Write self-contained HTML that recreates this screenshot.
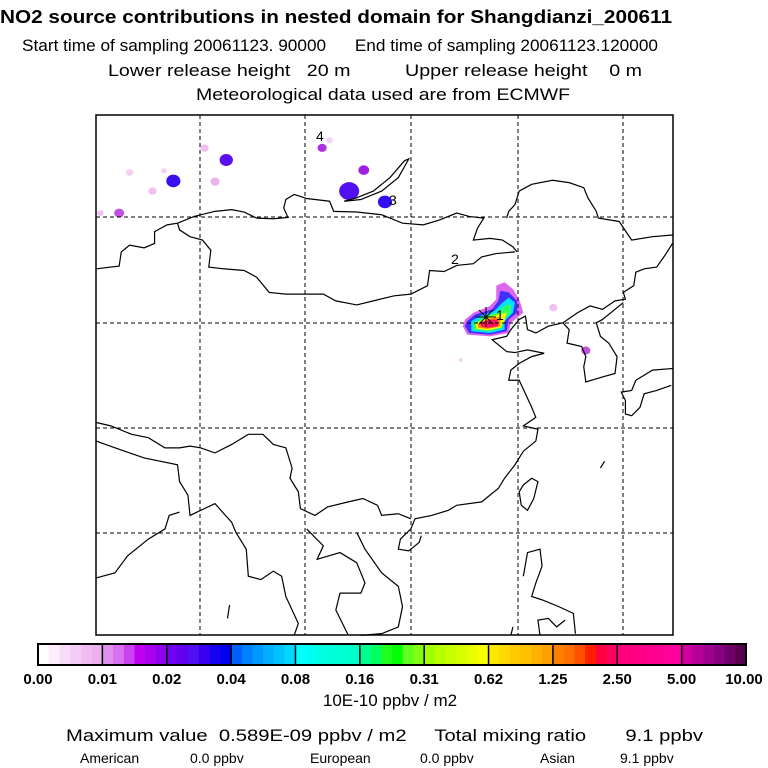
<!DOCTYPE html>
<html><head><meta charset="utf-8"><style>
html,body{margin:0;padding:0;background:#fff;width:768px;height:768px;overflow:hidden}
svg{display:block;font-family:"Liberation Sans",sans-serif}
</style></head><body>
<svg id="chart" width="768" height="768" viewBox="0 0 768 768">
<g fill="#000">
<text x="0" y="23" font-size="18" font-weight="bold" textLength="672" lengthAdjust="spacingAndGlyphs">NO2 source contributions in nested domain for Shangdianzi_200611</text>
<text x="22" y="51" font-size="17" xml:space="preserve" textLength="636" lengthAdjust="spacingAndGlyphs">Start time of sampling 20061123. 90000      End time of sampling 20061123.120000</text>
<text x="108" y="76" font-size="17" xml:space="preserve" textLength="534" lengthAdjust="spacingAndGlyphs">Lower release height   20 m          Upper release height    0 m</text>
<text x="196" y="100" font-size="17" textLength="374" lengthAdjust="spacingAndGlyphs">Meteorological data used are from ECMWF</text>
</g>
<g>
<rect x="96" y="115" width="577" height="520" fill="#fff"/>
<g id="plume" transform="translate(90,110) scale(0.41667,0.33784)"></g>
<g transform="translate(90,110) scale(0.41667,0.33784)" fill="none" stroke="#000" stroke-width="1.2">
<path vector-effect="non-scaling-stroke" d="M15,470 L70,462 75,420 95,400 130,408 155,395 155,360 185,340 210,335 250,315 300,300 340,295 370,302 400,320 440,322 475,318 465,290 470,265 490,250 520,262 575,270 585,300 640,302 700,310 750,335 800,340 840,325 880,305 910,315 945,320 930,350 920,385 960,380 990,385 1015,405 1025,420"/>
<path vector-effect="non-scaling-stroke" d="M1000,320 L1005,300 1020,280 1030,240 1060,220 1110,208 1150,215 1185,230 1195,260 1215,300 1220,320 1270,330 1300,385 1350,375 1398,370"/>
<path vector-effect="non-scaling-stroke" d="M210,335 L215,355 240,375 270,385 290,415 285,465 320,470 370,475 400,495 430,540 470,545 560,545 590,565 640,577 680,565 730,550 770,545 810,520 815,475 850,478 880,460 920,455 940,435 975,425 1020,420"/>
<path vector-effect="non-scaling-stroke" d="M1398,395 L1380,430 1360,465 1330,470 1310,480 1305,520 1280,540 1285,560 1260,565 1230,590 1200,580 1170,600 1135,630 1100,640 1070,660 1050,650 1045,610 1030,620 1010,650 1000,670 965,680 1000,715 1020,718 1050,710 1090,720 1060,730 1030,750 1010,770 1005,800 1030,800 1045,840 1060,880 1070,910 1040,935 1075,945 1070,980 1040,1010 1020,1050 995,1090 980,1120 940,1160 880,1170 860,1185 820,1200 780,1210 770,1240 745,1270 740,1300 765,1305 790,1280 795,1260"/>
<path vector-effect="non-scaling-stroke" d="M1135,630 L1150,650 1145,690 1180,700 1190,730 1185,760 1190,805 1230,790 1260,780 1265,730 1245,690 1225,670 1215,630 1230,620 1280,570"/>
<path vector-effect="non-scaling-stroke" d="M1400,765 L1350,770 1310,800 1300,830 1275,835 1285,860 1285,900 1300,905 1320,880 1330,840 1360,830 1395,815"/>
<path vector-effect="non-scaling-stroke" d="M15,925 L50,935 100,960 140,970 180,1000 215,1000 240,995 265,1000 300,1015 340,990 380,960 415,960 440,990 470,1000 485,1060 480,1090 500,1130 505,1180 540,1200 570,1175 620,1160 655,1150 690,1170 700,1200 740,1195 770,1210"/>
<path vector-effect="non-scaling-stroke" d="M15,980 L60,1000 130,1030 210,1050 215,1100 235,1140 240,1200 300,1165 325,1200 340,1220 350,1250 375,1300 380,1380 410,1390 440,1365 460,1380 470,1440 500,1520 490,1555"/>
<path vector-effect="non-scaling-stroke" d="M15,1385 L60,1370 90,1320 140,1270 180,1240 190,1200 215,1190"/>
<path vector-effect="non-scaling-stroke" d="M520,1240 L560,1290 545,1330 600,1310 640,1340 660,1400 650,1430 600,1430 590,1480 620,1555 M640,1250 L660,1300 700,1370 740,1410 750,1470 740,1530 700,1550 650,1555"/>
<path vector-effect="non-scaling-stroke" d="M1040,1110 L1060,1090 1075,1100 1065,1150 1050,1185 1035,1170 1030,1130 Z"/>
<path vector-effect="non-scaling-stroke" d="M1040,1380 L1050,1310 1080,1300 1085,1350 1070,1400 1060,1440 1085,1450 1125,1470 1160,1490 1165,1550 M1080,1555 L1075,1510 1100,1505 1120,1530 1140,1510"/>
<path vector-effect="non-scaling-stroke" d="M610,270 L650,265 700,240 740,200 765,145 755,150 720,200 680,240 640,260 Z"/>
<path vector-effect="non-scaling-stroke" d="M335,1465 L330,1505 M1225,1060 L1235,1040 M1010,1555 L1015,1530"/>
</g>
<g stroke="#000" stroke-width="1" stroke-dasharray="4,3">
<line x1="200" y1="115" x2="200" y2="635"/><line x1="305" y1="115" x2="305" y2="635"/><line x1="411" y1="115" x2="411" y2="635"/><line x1="518" y1="115" x2="518" y2="635"/><line x1="623" y1="115" x2="623" y2="635"/>
<line x1="96" y1="217" x2="673" y2="217"/><line x1="96" y1="323" x2="673" y2="323"/><line x1="96" y1="428" x2="673" y2="428"/><line x1="96" y1="533" x2="673" y2="533"/>
</g>
<g stroke="#000" stroke-width="1">
<line x1="476" y1="317" x2="496" y2="317"/><line x1="486" y1="307" x2="486" y2="327"/><line x1="479" y1="310" x2="493" y2="324"/><line x1="493" y1="310" x2="479" y2="324"/>
</g>
<g font-size="14" fill="#000">
<text x="496" y="320">1</text>
<text x="451" y="264">2</text>
<text x="389" y="205">3</text>
<text x="316" y="141">4</text>
</g>
<rect x="96" y="115" width="577" height="520" fill="none" stroke="#000" stroke-width="1.5"/>
</g>
<g id="colorbar"></g>
<text x="390" y="706" font-size="17" text-anchor="middle">10E-10 ppbv / m2</text>
<text x="66" y="741" font-size="17" xml:space="preserve" textLength="637" lengthAdjust="spacingAndGlyphs">Maximum value  0.589E-09 ppbv / m2     Total mixing ratio       9.1 ppbv</text>
<g font-size="14">
<text x="80" y="763">American</text>
<text x="190" y="763">0.0 ppbv</text>
<text x="310" y="763">European</text>
<text x="420" y="763">0.0 ppbv</text>
<text x="540" y="763">Asian</text>
<text x="620" y="763">9.1 ppbv</text>
</g>
</svg>
<script>
const tickLabels=["0.00","0.01","0.02","0.04","0.08","0.16","0.31","0.62","1.25","2.50","5.00","10.00"];
const segmentColors=[
["#ffffff","#fdeefd","#f9dcf9","#f5ccf5","#f1bdf1","#eeb0ee"],
["#e090f0","#d870f0","#cc40f0","#c000f0","#a800f0","#9000f0"],
["#7000f0","#6000f0","#5010f0","#3800f0","#1800f0","#0000f0"],
["#0060ff","#0080ff","#0098ff","#00b0ff","#00c4ff","#00d8ff"],
["#00ffff","#00fff0","#00ffe0","#00ffd8","#00ffd0","#00ffc8"],
["#00ff90","#00ff60","#20ff20","#00ff00","#60ff20","#80ff10"],
["#a0ff00","#b8ff00","#c8ff00","#d8ff00","#e8ff00","#f8ff00"],
["#ffe800","#ffd800","#ffc800","#ffc000","#ffb000","#ffa000"],
["#ff8000","#ff7000","#ff5000","#ff2000","#ff0040","#ff0060"],
["#ff0078","#ff0080","#ff0088","#ff0090","#ff0098","#ff00a0"],
["#d000a0","#b80098","#a00090","#880080","#700068","#580050"]];
const NS="http://www.w3.org/2000/svg";
const cb=document.getElementById('colorbar');
const cbX0=38,cbX1=746,cbY=644,cbH=21;
const segW=(cbX1-cbX0)/segmentColors.length;
function segX(i){return cbX0+i*segW;}
segmentColors.forEach((cols,i)=>{
 cols.forEach((c,j)=>{
  const r=document.createElementNS(NS,'rect');
  r.setAttribute('x',segX(i)+j*segW/cols.length);r.setAttribute('y',cbY);
  r.setAttribute('width',segW/cols.length+0.5);r.setAttribute('height',cbH);r.setAttribute('fill',c);
  
  
  cb.appendChild(r);
 });
 const l=document.createElementNS(NS,'line');
 l.setAttribute('x1',segX(i));l.setAttribute('x2',segX(i));l.setAttribute('y1',cbY);l.setAttribute('y2',cbY+cbH);
 l.setAttribute('stroke','#000');l.setAttribute('stroke-width','1.5');
 
 
 cb.appendChild(l);
});
const fr=document.createElementNS(NS,'rect');
fr.setAttribute('x',cbX0);fr.setAttribute('y',cbY);fr.setAttribute('width',cbX1-cbX0);fr.setAttribute('height',cbH);
fr.setAttribute('fill','none');fr.setAttribute('stroke','#000');fr.setAttribute('stroke-width','2');


cb.appendChild(fr);
tickLabels.forEach((t,i)=>{
 const tx=document.createElementNS(NS,'text');
 let x=segX(i);
 tx.setAttribute('x',Math.min(Math.max(x,20),744));
 tx.setAttribute('y',684);tx.setAttribute('font-size','15');tx.setAttribute('font-weight','bold');
 tx.setAttribute('text-anchor','middle');
 tx.textContent=t;
 
 
 cb.appendChild(tx);
});
const plumeLayers=[
["#dd66ee","900,620 920,600 960,580 975,560 975,520 995,510 1015,530 1030,560 1040,600 1030,610 1010,630 1005,660 960,670 905,665 895,640"],
["#4030ff","905,625 925,605 965,590 980,565 985,535 1005,540 1025,565 1025,600 1005,620 1000,655 960,665 910,660 900,640"],
["#00e0ff","915,625 935,610 970,595 990,570 1005,555 1020,570 1015,600 995,625 995,650 960,660 915,655"],
["#30ff60","920,630 945,612 975,600 995,580 1010,575 1010,600 990,625 990,645 960,655 920,650"],
["#f8ff00","925,632 950,615 980,605 1000,600 995,625 985,645 955,652 928,648"],
["#ff9000","930,635 955,618 985,612 985,640 955,648 932,645"],
["#ff1060","935,630 960,620 978,620 980,640 955,645 940,642"]];
const blobs=[[200,210,17,"#3a10f0"],[327,148,16,"#5a10f0"],[557,112,11,"#b030e0"],[657,178,13,"#a020e0"],[622,240,24,"#5010f0"],[708,272,17,"#3010f0"],[70,305,12,"#c050e0"],[25,305,8,"#f0c0f0"],[275,113,10,"#f0c0f0"],[300,212,11,"#eeb0ee"],[150,240,10,"#f0c0f0"],[95,185,9,"#f5d0f5"],[178,180,7,"#f5d0f5"],[1190,712,11,"#c050e0"],[1112,585,10,"#f0c0f0"],[575,90,8,"#f5d0f5"],[890,740,5,"#f5d0f5"]];
const pl=document.getElementById('plume');
blobs.forEach(b=>{
 const e=document.createElementNS(NS,'ellipse');
 e.setAttribute('cx',b[0]);e.setAttribute('cy',b[1]);e.setAttribute('rx',b[2]);e.setAttribute('ry',b[2]*1.1);e.setAttribute('fill',b[3]);
 
 
 pl.appendChild(e);
});
plumeLayers.forEach(p=>{
 const e=document.createElementNS(NS,'polygon');
 e.setAttribute('points',p[1]);e.setAttribute('fill',p[0]);
 
 
 pl.appendChild(e);
});
</script>
</body></html>
